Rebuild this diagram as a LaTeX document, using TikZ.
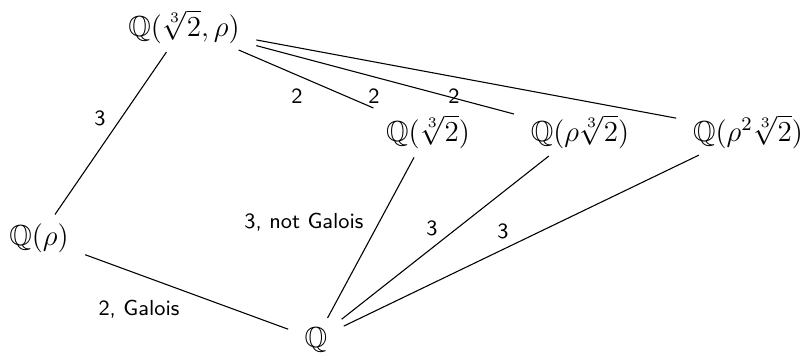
\documentclass[tikz,border=0pt]{standalone}
\usepackage{amssymb}
\usepackage{fontspec}
\begin{document}
\begin{tikzpicture}[x=0.414pt,y=-0.414pt,
  field/.style={font=\large, inner xsep=4.8pt, inner ysep=1.8pt, anchor=base},
  deg/.style={font=\small\sffamily, inner sep=0pt},
  conn/.style={line width=0.45pt, shorten >=2pt, shorten <=2pt}]
\useasboundingbox (0,0) rectangle (806,353);
\node[field] (T) at (184,36) {$\mathbb{Q}(\sqrt[3]{2},\rho)$};
\node[field] (R) at (39,245) {$\mathbb{Q}(\rho)$};
\node[field] (A) at (428,141) {$\mathbb{Q}(\sqrt[3]{2})$};
\node[field] (B) at (580,141) {$\mathbb{Q}(\rho\sqrt[3]{2})$};
\node[field] (C) at (748,141) {$\mathbb{Q}(\rho^2\sqrt[3]{2})$};
\node[field] (Q) at (316,347) {$\mathbb{Q}$};
\draw[conn] (T) -- (R);
\draw[conn] (T) -- (A);
\draw[conn] (T) -- (B);
\draw[conn] (T) -- (C);
\draw[conn] (R) -- (Q);
\draw[conn] (Q) -- (A);
\draw[conn] (Q) -- (B);
\draw[conn] (Q) -- (C);
\node[deg] (l1) at (100,118) {3};
\node[deg] (l2) at (297,96) {2};
\node[deg] (l3) at (374,96) {2};
\node[deg] (l4) at (454,96) {2};
\node[deg] (l5) at (304,222) {3, not Galois};
\node[deg] (l6) at (432,228) {3};
\node[deg] (l7) at (503,231) {3};
\node[deg] (l8) at (139,309) {2, Galois};
\end{tikzpicture}
\end{document}
